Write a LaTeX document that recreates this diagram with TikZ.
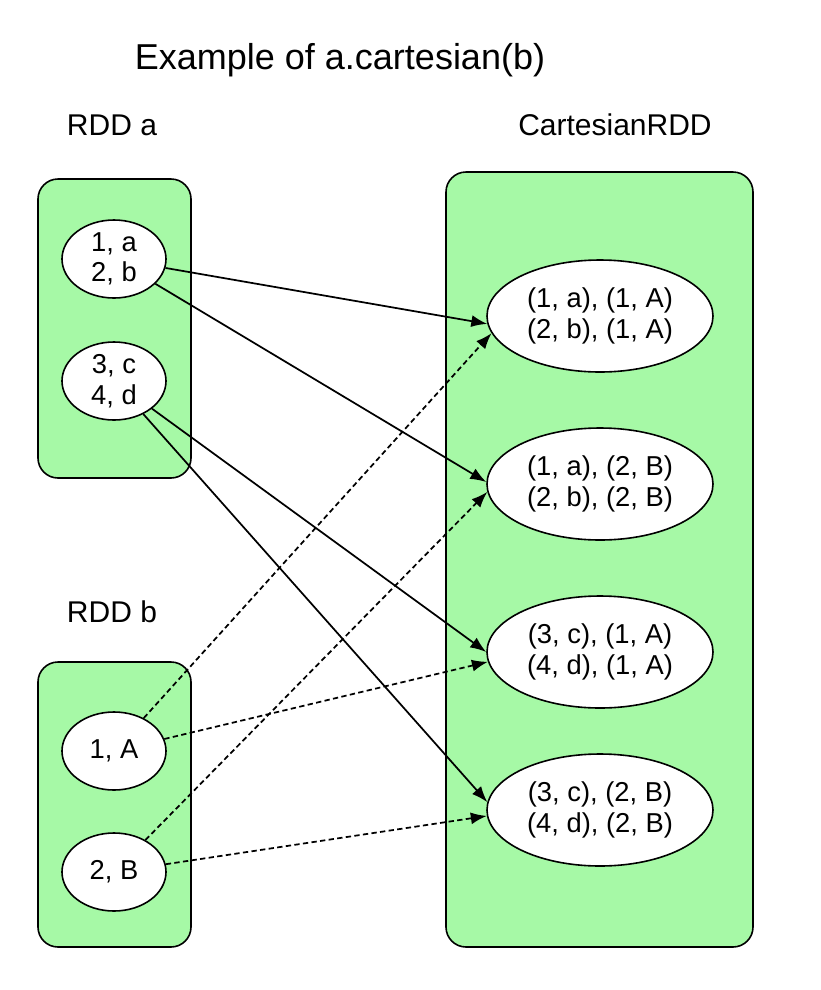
\documentclass[tikz,border=0pt]{standalone}
\usepackage{fontspec}
\setmainfont{Liberation Sans}
\usetikzlibrary{arrows.meta,shapes.geometric}
\definecolor{boxgreen}{RGB}{166,249,166}
\tikzset{
  grp/.style={draw=black, line width=1.2pt, fill=boxgreen, rounded corners=15pt},
  smallell/.style={ellipse, draw=black, line width=1.2pt, fill=white, minimum width=78pt, minimum height=58.5pt, inner sep=0pt, align=center, font=\fontsize{20.5pt}{23pt}\selectfont},
  bigell/.style={ellipse, draw=black, line width=1.2pt, fill=white, minimum width=169.5pt, minimum height=84pt, inner sep=0pt, align=center, font=\fontsize{20.5pt}{23pt}\selectfont},
  lbl/.style={font=\fontsize{22.5pt}{27pt}\selectfont, inner sep=0pt},
  ttl/.style={font=\fontsize{27pt}{32pt}\selectfont, inner sep=0pt},
  conn/.style={line width=1.3pt, -{Latex[length=12pt,width=9pt]}},
  dconn/.style={conn, dash pattern=on 4pt off 2.5pt}
}
\begin{document}
\begin{tikzpicture}[x=0.75pt,y=-0.75pt]
\useasboundingbox (0,0) rectangle (821,990);
\node[ttl] (title) at (340,60) {Example of a.cartesian(b)};
\node[lbl] (la) at (112,125) {RDD a};
\node[lbl] (lc) at (615,125) {CartesianRDD};
\node[lbl] (lb) at (112,612) {RDD b};
\draw[grp] (38,179) rectangle (191,478);
\draw[grp] (38,662) rectangle (191,947);
\draw[grp] (446,172) rectangle (753,947);
\node[smallell] (a1) at (114,259) {1, a\\2, b};
\node[smallell] (a2) at (114,381) {3, c\\4, d};
\node[smallell] (b1) at (114,751) {1, A};
\node[smallell] (b2) at (114,872) {2, B};
\node[bigell] (c1) at (600,316) {(1, a), (1, A)\\(2, b), (1, A)};
\node[bigell] (c2) at (600,484) {(1, a), (2, B)\\(2, b), (2, B)};
\node[bigell] (c3) at (600,652) {(3, c), (1, A)\\(4, d), (1, A)};
\node[bigell] (c4) at (600,810) {(3, c), (2, B)\\(4, d), (2, B)};
\draw[conn] (a1) -- (c1.184);
\draw[conn] (a1) -- (c2.179);
\draw[conn] (a2) -- (c3.180);
\draw[conn] (a2) -- (c4.176);
\draw[dconn] (b1) -- (c1.189);
\draw[dconn] (b1) -- (c3.185);
\draw[dconn] (b2) -- (c2.184);
\draw[dconn] (b2) -- (c4.183);
\end{tikzpicture}
\end{document}
